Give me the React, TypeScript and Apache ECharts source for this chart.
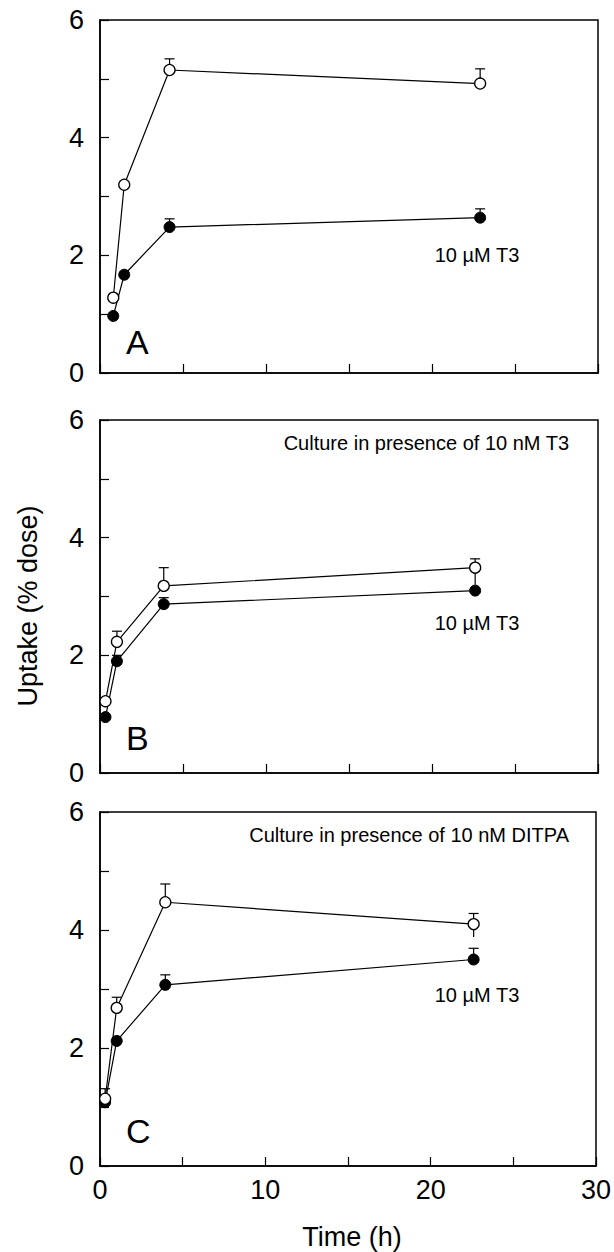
import React, { useEffect, useRef } from "react";
import * as echarts from "echarts";

const FONT = "'Liberation Sans', Arial, Helvetica, sans-serif";

// X tick labels shown only on bottom panel
const xTickLabels = [0, 10, 20, 30];
const yTickLabels = [0, 2, 4, 6];

// Panel A
const timesA = [0.8, 1.46, 4.19, 22.9];
const openA = [1.28, 3.2, 5.15, 4.92];
const openAHi = [null, null, 5.34, 5.17];
const openALo = [null, null, null, null];
const filledA = [0.97, 1.67, 2.48, 2.64];
const filledAHi = [null, null, 2.62, 2.79];

// Panel B
const timesB = [0.33, 1.02, 3.84, 22.6];
const openB = [1.22, 2.23, 3.18, 3.49];
const openBHi = [null, 2.41, 3.49, 3.64];
const openBLo = [null, null, null, 3.2];
const filledB = [0.95, 1.9, 2.87, 3.1];
const filledBHi = [null, 2.0, 2.98, null];

// Panel C
const timesC = [0.31, 1.01, 3.95, 22.6];
const openC = [1.14, 2.68, 4.47, 4.1];
const openCHi = [1.31, 2.86, 4.78, 4.28];
const openCLo = [null, null, null, 3.88];
const filledC = [1.08, 2.12, 3.07, 3.5];
const filledCHi = [null, null, 3.24, 3.69];

const panelLetters = ["A", "B", "C"];
const cultureNotes = ["", "Culture in presence of 10 nM T3", "Culture in presence of 10 nM DITPA"];
const doseNote = "10 \u00b5M T3";
const yTitle = "Uptake (% dose)";
const xTitle = "Time (h)";

const grids = [
  { left: 100, top: 20, width: 498, height: 353 },
  { left: 100, top: 420, width: 498, height: 353 },
  { left: 100, top: 812, width: 498, height: 354 },
];

function pairs(t: number[], v: number[]) {
  return t.map((x, i) => [x, v[i]]);
}

function errData(t: number[], v: number[], hi: (number | null)[], lo: (number | null)[]) {
  const out: number[][] = [];
  t.forEach((x, i) => {
    if (hi[i] != null || lo[i] != null) {
      const h = hi[i] != null ? (hi[i] as number) : v[i];
      const l = lo[i] != null ? (lo[i] as number) : v[i];
      out.push([x, h, l, hi[i] != null ? 1 : 0]);
    }
  });
  return out;
}

export default function App() {
  const ref = useRef<HTMLDivElement>(null);
  useEffect(() => {
    if (!ref.current) return;
    const chart = echarts.init(ref.current, undefined, { renderer: "svg" });

    const panels = [
      { t: timesA, o: openA, oh: openAHi, ol: openALo, f: filledA, fh: filledAHi },
      { t: timesB, o: openB, oh: openBHi, ol: openBLo, f: filledB, fh: filledBHi },
      { t: timesC, o: openC, oh: openCHi, ol: openCLo, f: filledC, fh: filledCHi },
    ];

    const xAxes = grids.map((_, i) => ({
      type: "value",
      gridIndex: i,
      min: 0,
      max: 30,
      interval: 5,
      axisLine: { show: true, onZero: false, lineStyle: { color: "#000", width: 1.5 } },
      axisTick: { show: true, inside: true, length: 9, lineStyle: { color: "#000", width: 1.2 } },
      axisLabel: {
        show: i === 2,
        margin: 10,
        color: "#000",
        fontSize: 27,
        fontFamily: FONT,
        formatter: (v: number) => (xTickLabels.includes(v) ? String(v) : ""),
      },
      splitLine: { show: false },
    }));

    const yAxes = grids.map((_, i) => ({
      type: "value",
      gridIndex: i,
      min: 0,
      max: 6,
      interval: 1,
      axisLine: { show: true, lineStyle: { color: "#000", width: 1.5 } },
      axisTick: { show: true, inside: true, length: 9, lineStyle: { color: "#000", width: 1.2 } },
      axisLabel: {
        show: true,
        margin: 16,
        color: "#000",
        fontSize: 27,
        fontFamily: FONT,
        formatter: (v: number) => (yTickLabels.includes(v) ? String(v) : ""),
      },
      splitLine: { show: false },
    }));

    const renderErr = (params: any, api: any) => {
      const x = api.value(0);
      const hi = api.value(1);
      const lo = api.value(2);
      const cap = api.value(3);
      const p1 = api.coord([x, hi]);
      const p2 = api.coord([x, lo]);
      const style = { stroke: "#000", lineWidth: 1.2, fill: "none" };
      const children: any[] = [
        { type: "line", shape: { x1: p1[0], y1: p1[1], x2: p2[0], y2: p2[1] }, style },
      ];
      if (cap) {
        children.push({ type: "line", shape: { x1: p1[0] - 5, y1: p1[1], x2: p1[0] + 5, y2: p1[1] }, style });
      }
      return { type: "group", children };
    };

    const series: any[] = [];
    panels.forEach((p, i) => {
      series.push({
        type: "custom",
        xAxisIndex: i,
        yAxisIndex: i,
        z: 1,
        silent: true,
        renderItem: renderErr,
        encode: { x: 0, y: [1, 2] },
        data: errData(p.t, p.o, p.oh, p.ol),
      });
      series.push({
        type: "custom",
        xAxisIndex: i,
        yAxisIndex: i,
        z: 1,
        silent: true,
        renderItem: renderErr,
        encode: { x: 0, y: [1, 2] },
        data: errData(p.t, p.f, p.fh, p.f.map(() => null)),
      });
      series.push({
        type: "line",
        xAxisIndex: i,
        yAxisIndex: i,
        z: 3,
        silent: true,
        symbol: "circle",
        symbolSize: 11,
        showSymbol: true,
        lineStyle: { color: "#000", width: 1.2 },
        itemStyle: { color: "#000", borderColor: "#000", borderWidth: 1 },
        data: pairs(p.t, p.f),
      });
      series.push({
        type: "line",
        xAxisIndex: i,
        yAxisIndex: i,
        z: 4,
        silent: true,
        symbol: "circle",
        symbolSize: 11,
        showSymbol: true,
        lineStyle: { color: "#000", width: 1.2 },
        itemStyle: { color: "#fff", borderColor: "#000", borderWidth: 1.3 },
        data: pairs(p.t, p.o),
      });
    });

    const letterY = [345, 741, 1134];
    const doseY = [255, 623, 995];
    const noteY = [0, 443, 835];

    const graphics: any[] = [];
    grids.forEach((g, i) => {
      graphics.push({
        type: "text",
        left: 126,
        top: letterY[i] - 20,
        style: { text: panelLetters[i], font: `34px ${FONT}`, fill: "#000" },
        silent: true,
      });
      graphics.push({
        type: "text",
        x: 477,
        y: doseY[i],
        style: {
          text: doseNote,
          font: `20px ${FONT}`,
          fill: "#000",
          textAlign: "center",
          textVerticalAlign: "middle",
        },
        silent: true,
      });
      if (cultureNotes[i]) {
        graphics.push({
          type: "text",
          x: 569,
          y: noteY[i],
          style: {
            text: cultureNotes[i],
            font: `20px ${FONT}`,
            fill: "#000",
            textAlign: "right",
            textVerticalAlign: "middle",
          },
          silent: true,
        });
      }
    });
    graphics.push({
      type: "text",
      x: 28,
      y: 606,
      rotation: Math.PI / 2,
      style: {
        text: yTitle,
        font: `27px ${FONT}`,
        fill: "#000",
        textAlign: "center",
        textVerticalAlign: "middle",
      },
      silent: true,
    });
    graphics.push({
      type: "text",
      x: 352,
      y: 1237,
      style: {
        text: xTitle,
        font: `27px ${FONT}`,
        fill: "#000",
        textAlign: "center",
        textVerticalAlign: "middle",
      },
      silent: true,
    });

    chart.setOption({
      animation: false,
      backgroundColor: "#fff",
      grid: grids.map((g) => ({ ...g, show: true, borderColor: "#000", borderWidth: 1.5, backgroundColor: "transparent" })),
      xAxis: xAxes,
      yAxis: yAxes,
      series,
      graphic: graphics,
    });

    return () => chart.dispose();
  }, []);

  return (
    <div
      ref={ref}
      style={{ position: "absolute", left: 0, top: 0, width: 614, height: 1252, background: "#fff" }}
    />
  );
}
